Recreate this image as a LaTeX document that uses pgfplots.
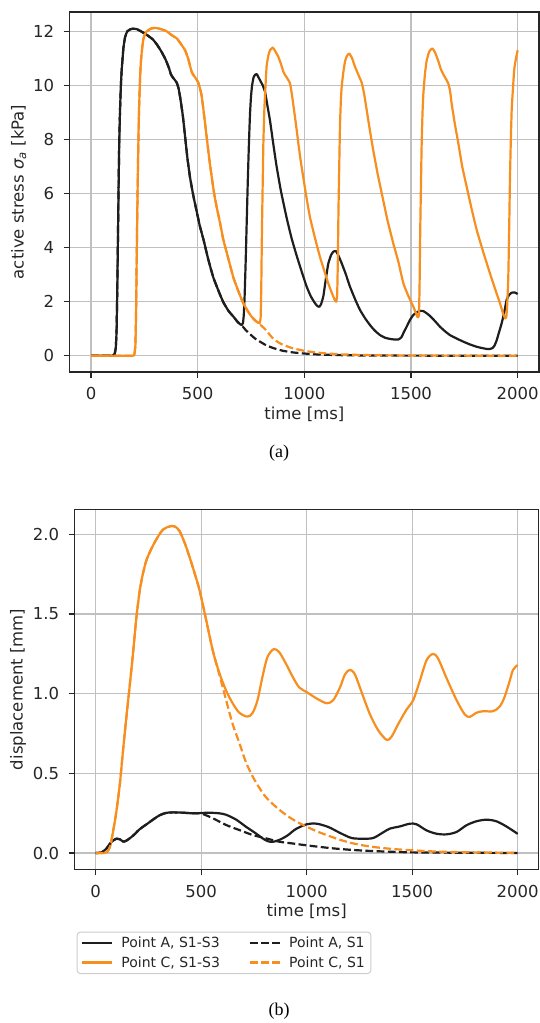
\documentclass[border=0pt]{standalone}
\usepackage{fontspec}
\setmainfont{DejaVu Sans}
\newfontfamily\capfont{Liberation Serif}
\usepackage{pgfplots}
\pgfplotsset{compat=1.18}

\definecolor{cA}{RGB}{30,30,30}
\definecolor{cC}{RGB}{247,142,30}
\definecolor{gridc}{RGB}{192,192,192}
\definecolor{txt}{RGB}{38,38,38}
\definecolor{legc}{RGB}{204,204,204}

\pgfplotsset{
  mpl/.style={
    scale only axis,
    xmin=-100, xmax=2100,
    xtick={0,500,1000,1500,2000},
    tick pos=left, tick align=outside,
    major tick length=6pt,
    grid=major,
    grid style={gridc, line width=1.2pt},
    axis line style={txt, line width=1.2pt},
    every tick/.style={txt, line width=1.2pt},
    tick label style={font=\fontsize{16.5}{19}\selectfont, text=txt},
    xticklabel style={yshift=-6pt},
    yticklabel style={xshift=-6pt},
    label style={font=\fontsize{16.5}{19}\selectfont, text=txt},
    /pgf/number format/assume math mode=true,
    /pgf/number format/set thousands separator={},
    xlabel={time [ms]},
  },
  solidA/.style={cA, line width=2.2pt, line join=round},
  solidC/.style={cC, line width=2.2pt, line join=round},
  dashA/.style={cA, line width=2.2pt, line join=round, dash pattern=on 7.8pt off 3.4pt},
  dashC/.style={cC, line width=2.2pt, line join=round, dash pattern=on 7.8pt off 3.4pt},
}

\begin{document}
\begin{tikzpicture}
\useasboundingbox (0,0) rectangle (540pt,-1023pt);

% (a) active stress
\begin{axis}[mpl,
  at={(69.7pt,-371.9pt)}, anchor=south west,
  width=469.3pt, height=360pt,
  ymin=-0.6, ymax=12.72,
  ytick={0,2,4,6,8,10,12},
  ylabel={active stress {\itshape σ\textsubscript{a}} [kPa]},
]
\addplot[solidA, smooth, tension=0.25] coordinates {
(0,0) (100,0) (110,0.05) (116,0.3) (120,1.0) (124,3) (128,5.5) (132,7.8) (136,9.1) (140,10.0) (144,10.6) (152,11.4) (160,11.8) (170,12.0) (185,12.08) (200,12.1) (215,12.08) (230,12.02) (260,11.88) (290,11.7) (310,11.5) (330,11.25) (350,10.95) (365,10.65) (375,10.4) (385,10.28) (395,10.18) (402,10.1) (410,9.9) (417,9.6) (430,8.9) (441,8.1) (452,7.3) (464,6.6) (480,5.9) (495,5.35) (510,4.8) (527,4.3) (550,3.55) (573,2.9) (600,2.35) (620,1.98) (645,1.65) (667,1.45) (685,1.27) (698,1.17) (706,1.13) (712,1.2) (716,1.5) (720,2.2) (725,3.5) (730,5.0) (735,6.5) (740,7.8) (745,8.9) (750,9.6) (755,10.0) (762,10.3) (770,10.4) (777,10.42) (785,10.3) (795,10.15) (805,10.0) (816,9.75) (828,9.2) (839,8.7) (855,7.8) (870,7.0) (890,6.1) (917,5.1) (940,4.35) (964,3.7) (990,3.05) (1011,2.55) (1030,2.2) (1050,1.94) (1062,1.83) (1070,1.81) (1078,1.9) (1089,2.2) (1100,2.8) (1112,3.4) (1125,3.72) (1136,3.85) (1148,3.87) (1160,3.7) (1175,3.42) (1195,3.0) (1214,2.55) (1240,2.05) (1261,1.69) (1285,1.38) (1308,1.13) (1330,0.93) (1355,0.76) (1380,0.66) (1402,0.62) (1420,0.6) (1441,0.6) (1455,0.68) (1464,0.83) (1480,1.08) (1495,1.32) (1510,1.5) (1530,1.62) (1545,1.66) (1558,1.65) (1575,1.56) (1589,1.47) (1610,1.3) (1636,1.07) (1660,0.9) (1683,0.76) (1715,0.63) (1745,0.52) (1775,0.42) (1808,0.33) (1835,0.28) (1855,0.25) (1870,0.25) (1882,0.28) (1892,0.38) (1902,0.58) (1912,0.85) (1925,1.2) (1937,1.6) (1948,2.06) (1960,2.25) (1972,2.33) (1987,2.34) (2000,2.28)
};
\addplot[solidC, smooth, tension=0.25] coordinates {
(0,0) (195,0) (203,0.05) (208,0.4) (211,1.5) (214,3.5) (217,5.4) (221,7.5) (225,9.1) (230,10.3) (234,10.9) (240,11.4) (245,11.7) (253,11.9) (261,12.0) (280,12.1) (300,12.13) (320,12.1) (340,12.05) (355,12.0) (380,11.85) (402,11.74) (420,11.55) (441,11.3) (455,11.0) (465,10.7) (472,10.5) (480,10.38) (488,10.3) (496,10.2) (503,10.1) (512,9.85) (519,9.6) (530,8.9) (542,8.1) (554,7.3) (566,6.6) (577,6.0) (589,5.5) (605,4.9) (620,4.3) (645,3.55) (667,2.9) (690,2.4) (713,1.95) (735,1.65) (752,1.45) (770,1.3) (783,1.22) (790,1.2) (795,1.4) (798,2.5) (801,4.5) (805,6.5) (808,7.9) (812,9.0) (816,9.7) (823,10.7) (831,11.1) (839,11.3) (852,11.4) (865,11.25) (878,11.06) (890,10.8) (902,10.5) (910,10.38) (917,10.3) (925,10.2) (933,10.07) (940,9.75) (948,9.3) (960,8.6) (972,7.85) (983,7.2) (995,6.6) (1010,5.85) (1027,5.1) (1050,4.35) (1073,3.66) (1093,3.15) (1112,2.68) (1125,2.4) (1136,2.18) (1145,2.02) (1150,2.0) (1154,2.3) (1157,3.5) (1160,5.4) (1164,7.2) (1167,8.5) (1171,9.4) (1175,9.95) (1183,10.5) (1191,10.9) (1200,11.1) (1211,11.18) (1224,11.0) (1237,10.7) (1245,10.55) (1253,10.4) (1261,10.25) (1269,10.1) (1280,9.7) (1292,9.1) (1308,8.3) (1323,7.6) (1343,6.75) (1363,6.0) (1390,5.0) (1417,4.15) (1440,3.5) (1464,2.68) (1488,2.2) (1511,1.81) (1522,1.6) (1531,1.42) (1537,1.5) (1540,2.5) (1543,4.5) (1547,6.5) (1550,7.85) (1554,9.0) (1558,9.7) (1565,10.4) (1573,10.9) (1585,11.25) (1600,11.37) (1614,11.2) (1628,10.9) (1640,10.6) (1652,10.4) (1663,10.25) (1675,10.07) (1683,9.8) (1691,9.3) (1705,8.6) (1722,7.85) (1740,7.0) (1761,6.25) (1785,5.4) (1808,4.65) (1840,3.8) (1870,3.05) (1895,2.45) (1917,1.94) (1930,1.6) (1941,1.38) (1947,1.45) (1951,1.9) (1956,2.9) (1960,4.6) (1964,6.6) (1968,8.0) (1972,9.1) (1978,9.9) (1984,10.6) (1992,11.0) (2000,11.3)
};
\addplot[dashA, smooth, tension=0.25] coordinates {
(0,0) (100,0) (110,0.05) (116,0.3) (120,1.0) (124,3) (128,5.5) (132,7.8) (136,9.1) (140,10.0) (144,10.6) (152,11.4) (160,11.8) (170,12.0) (185,12.08) (200,12.1) (215,12.08) (230,12.02) (260,11.88) (290,11.7) (310,11.5) (330,11.25) (350,10.95) (365,10.65) (375,10.4) (385,10.28) (395,10.18) (402,10.1) (410,9.9) (417,9.6) (430,8.9) (441,8.1) (452,7.3) (464,6.6) (480,5.9) (495,5.35) (510,4.8) (527,4.3) (550,3.55) (573,2.9) (600,2.35) (620,1.98) (645,1.65) (667,1.45) (685,1.27) (698,1.17) (706,1.13) (725,0.95) (745,0.8) (768,0.64) (792,0.52) (820,0.39) (855,0.28) (900,0.18) (948,0.12) (1000,0.08) (1050,0.05) (1100,0.035) (1200,0.015) (1300,0.008) (1400,0.004) (1600,0.001) (2000,0)
};
\addplot[dashC, smooth, tension=0.25] coordinates {
(0,0) (195,0) (203,0.05) (208,0.4) (211,1.5) (214,3.5) (217,5.4) (221,7.5) (225,9.1) (230,10.3) (234,10.9) (240,11.4) (245,11.7) (253,11.9) (261,12.0) (280,12.1) (300,12.13) (320,12.1) (340,12.05) (355,12.0) (380,11.85) (402,11.74) (420,11.55) (441,11.3) (455,11.0) (465,10.7) (472,10.5) (480,10.38) (488,10.3) (496,10.2) (503,10.1) (512,9.85) (519,9.6) (530,8.9) (542,8.1) (554,7.3) (566,6.6) (577,6.0) (589,5.5) (605,4.9) (620,4.3) (645,3.55) (667,2.9) (690,2.4) (713,1.95) (735,1.65) (752,1.45) (770,1.3) (783,1.22) (800,1.1) (820,0.95) (837,0.78) (855,0.62) (877,0.5) (900,0.4) (925,0.33) (948,0.27) (1000,0.18) (1042,0.13) (1100,0.085) (1170,0.05) (1250,0.03) (1350,0.015) (1500,0.006) (1700,0.002) (2000,0)
};
\end{axis}
\node[font=\capfont\fontsize{18}{20}\selectfont, text=black] at (279pt,-453pt) {(a)};

% (b) displacement
\begin{axis}[mpl,
  at={(74.6pt,-869.4pt)}, anchor=south west,
  width=464.2pt, height=360.2pt,
  ymin=-0.103, ymax=2.158,
  ytick={0,0.5,1,1.5,2},
  yticklabel style={/pgf/number format/.cd, fixed, fixed zerofill, precision=1},
  ylabel={displacement [mm]},
  legend columns=2, transpose legend, legend cell align=left,
  legend image code/.code={\draw[#1] (0pt,0pt) -- (30pt,0pt); \path (36pt,0pt);},
  legend style={at={(axis description cs:0.0045,-0.173)}, anchor=north west,
    draw=legc, line width=1pt, rounded corners=3pt, fill=white,
    font=\fontsize{14}{16}\selectfont, text=txt,
    inner xsep=4pt, inner ysep=3pt, row sep=3pt,
    /tikz/every even column/.append style={column sep=27pt}},
]
\addplot[solidA, smooth, tension=0.5] coordinates {
(0,0) (28,0.004) (52,0.03) (75,0.07) (99,0.09) (115,0.086) (130,0.072) (146,0.078) (178,0.11) (209,0.15) (241,0.18) (272,0.21) (303,0.237) (335,0.252) (366,0.255) (414,0.253) (461,0.249) (500,0.251) (539,0.253) (586,0.249) (618,0.24) (665,0.21) (712,0.165) (759,0.123) (791,0.092) (814,0.075) (838,0.07) (870,0.082) (909,0.11) (948,0.15) (1000,0.18) (1047,0.184) (1103,0.163) (1158,0.126) (1213,0.094) (1268,0.09) (1315,0.094) (1363,0.13) (1394,0.153) (1442,0.167) (1489,0.184) (1521,0.18) (1568,0.142) (1615,0.121) (1662,0.117) (1710,0.132) (1757,0.174) (1804,0.199) (1852,0.209) (1899,0.199) (1946,0.167) (2000,0.12)
};
\addlegendentry{Point A, S1-S3}
\addplot[solidC, smooth, tension=0.5] coordinates {
(0,0) (30,0) (52,0.005) (68,0.04) (83,0.14) (99,0.27) (115,0.44) (130,0.65) (146,0.86) (162,1.06) (178,1.27) (193,1.48) (209,1.65) (225,1.76) (241,1.84) (264,1.91) (288,1.97) (319,2.03) (351,2.05) (374,2.05) (398,2.02) (429,1.92) (461,1.79) (492,1.65) (524,1.46) (555,1.27) (586,1.13) (618,1.02) (649,0.94) (681,0.88) (720,0.856) (744,0.88) (767,0.96) (791,1.11) (814,1.23) (844,1.28) (870,1.26) (901,1.19) (932,1.11) (964,1.04) (1000,1.01) (1047,0.97) (1095,0.94) (1126,0.96) (1158,1.04) (1181,1.12) (1205,1.15) (1229,1.12) (1260,1.01) (1300,0.87) (1339,0.77) (1379,0.71) (1402,0.73) (1434,0.81) (1473,0.9) (1505,0.96) (1536,1.08) (1568,1.21) (1599,1.25) (1623,1.22) (1662,1.1) (1710,0.96) (1749,0.87) (1773,0.855) (1804,0.88) (1836,0.89) (1883,0.89) (1915,0.92) (1938,0.98) (1962,1.08) (1978,1.15) (2000,1.18)
};
\addlegendentry{Point C, S1-S3}
\addplot[dashA, smooth, tension=0.5] coordinates {
(0,0) (28,0.004) (52,0.03) (75,0.07) (99,0.09) (115,0.086) (130,0.072) (146,0.078) (178,0.11) (209,0.15) (241,0.18) (272,0.21) (303,0.237) (335,0.252) (366,0.255) (414,0.253) (461,0.249) (500,0.248) (555,0.218) (618,0.176) (681,0.144) (744,0.113) (807,0.092) (870,0.071) (932,0.06) (1000,0.048) (1070,0.037) (1142,0.027) (1220,0.019) (1300,0.013) (1400,0.008) (1500,0.004) (1700,0.002) (2000,0)
};
\addlegendentry{Point A, S1}
\addplot[dashC, smooth, tension=0.5] coordinates {
(0,0) (30,0) (52,0.005) (68,0.04) (83,0.14) (99,0.27) (115,0.44) (130,0.65) (146,0.86) (162,1.06) (178,1.27) (193,1.48) (209,1.65) (225,1.76) (241,1.84) (264,1.91) (288,1.97) (319,2.03) (351,2.05) (374,2.05) (398,2.02) (429,1.92) (461,1.79) (492,1.65) (524,1.46) (555,1.27) (586,1.12) (618,0.96) (649,0.81) (681,0.69) (712,0.57) (744,0.48) (775,0.41) (807,0.35) (854,0.29) (901,0.24) (948,0.2) (1000,0.165) (1050,0.135) (1110,0.105) (1165,0.08) (1221,0.06) (1280,0.045) (1347,0.033) (1420,0.024) (1500,0.017) (1600,0.01) (1700,0.006) (1850,0.003) (2000,0.002)
};
\addlegendentry{Point C, S1}
\end{axis}
\node[font=\capfont\fontsize{18}{20}\selectfont, text=black] at (279pt,-1011pt) {(b)};
\end{tikzpicture}
\end{document}
